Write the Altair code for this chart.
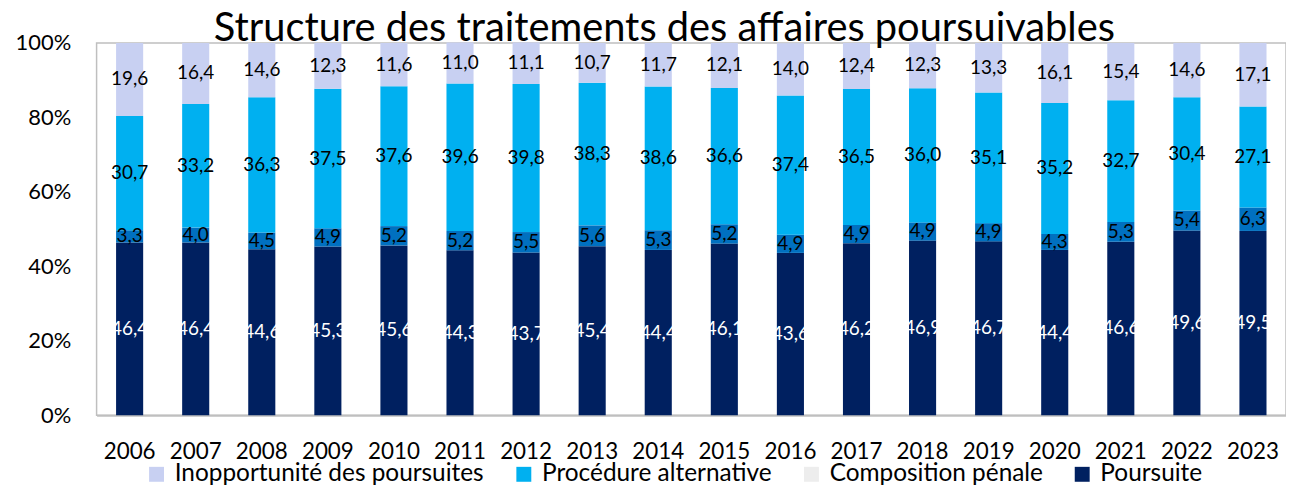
import altair as alt
import pandas as pd

years = [str(y) for y in range(2006, 2024)]
inopportunite = [19.6, 16.4, 14.6, 12.3, 11.6, 11.0, 11.1, 10.7, 11.7, 12.1, 14.0, 12.4, 12.3, 13.3, 16.1, 15.4, 14.6, 17.1]
procedure_alt = [30.7, 33.2, 36.3, 37.5, 37.6, 39.6, 39.8, 38.3, 38.6, 36.6, 37.4, 36.5, 36.0, 35.1, 35.2, 32.7, 30.4, 27.1]
composition = [3.3, 4.0, 4.5, 4.9, 5.2, 5.2, 5.5, 5.6, 5.3, 5.2, 4.9, 4.9, 4.9, 4.9, 4.3, 5.3, 5.4, 6.3]
poursuite = [46.4, 46.4, 44.6, 45.3, 45.6, 44.3, 43.7, 45.4, 44.4, 46.1, 43.6, 46.2, 46.9, 46.7, 44.4, 46.6, 49.6, 49.5]

legend_names = ["Inopportunité des poursuites", "Procédure alternative", "Composition pénale", "Poursuite"]
CP_BAR = "Composition pénale (barre)"
domain = legend_names + [CP_BAR]
colors = ["#C8D0F2", "#00B0F0", "#EDEDED", "#002060", "#0070C0"]

series = [
    ("Poursuite", poursuite, 1),
    (CP_BAR, composition, 2),
    ("Procédure alternative", procedure_alt, 3),
    ("Inopportunité des poursuites", inopportunite, 4),
]
rows = []
for name, vals, order in series:
    for y, v in zip(years, vals):
        rows.append({"annee": y, "serie": name, "valeur": v, "ordre": order,
                     "etiquette": f"{v:.1f}".replace(".", ",")})
df = pd.DataFrame(rows)

FONT = "Lato"

base = alt.Chart(df).transform_stack(
    stack="valeur", groupby=["annee"], as_=["y0", "y1"],
    sort=[alt.SortField("ordre", order="ascending")]
).transform_calculate(mid="(datum.y0 + datum.y1) / 2")

xenc = alt.X("annee:N", title=None, sort=years,
             scale=alt.Scale(paddingInner=0.59, paddingOuter=0.295),
             axis=alt.Axis(labelAngle=0, ticks=False, domainColor="#BFBFBF", domainWidth=2,
                           labelFontSize=22.5, labelFont=FONT, labelColor="black", labelPadding=25))

bars = base.mark_bar().encode(
    x=xenc,
    y=alt.Y("y0:Q", title=None, scale=alt.Scale(domain=[0, 100], nice=False),
            axis=alt.Axis(values=[0, 20, 40, 60, 80, 100], labelExpr="datum.value + '%'",
                          ticks=False, domain=False, grid=False, labelFontSize=22,
                          labelFont=FONT, labelColor="black", labelPadding=26)),
    y2="y1:Q",
    color=alt.Color("serie:N", scale=alt.Scale(domain=domain, range=colors),
                    legend=alt.Legend(values=legend_names, title=None, orient="none",
                                      direction="horizontal", legendX=48, legendY=421,
                                      labelFontSize=24.5, labelFont=FONT, labelColor="black",
                                      labelLimit=0,
                                      symbolType="square", symbolSize=225, symbolStrokeWidth=0,
                                      columnPadding=27, labelOffset=6)),
)

labels = base.mark_text(fontSize=19, font=FONT, baseline="middle", align="center").encode(
    x=alt.X("annee:N", sort=years),
    y=alt.Y("mid:Q"),
    text="etiquette:N",
    color=alt.condition("datum.serie == 'Poursuite'", alt.value("white"), alt.value("black")),
)

chart = alt.layer(bars, labels).properties(
    width=1195, height=374,
    autosize=alt.AutoSizeParams(type="none"),
    padding={"left": 89, "top": 34, "right": 0, "bottom": 69},
    title=alt.TitleParams("Structure des traitements des affaires poursuivables", fontSize=40,
                          font=FONT, fontWeight="normal", anchor="middle", dx=-27, offset=-17,
                          color="black"),
).configure_view(stroke="#BFBFBF", strokeWidth=1.5)

chart.save("out.html", embed_options={"renderer": "svg", "actions": False})
